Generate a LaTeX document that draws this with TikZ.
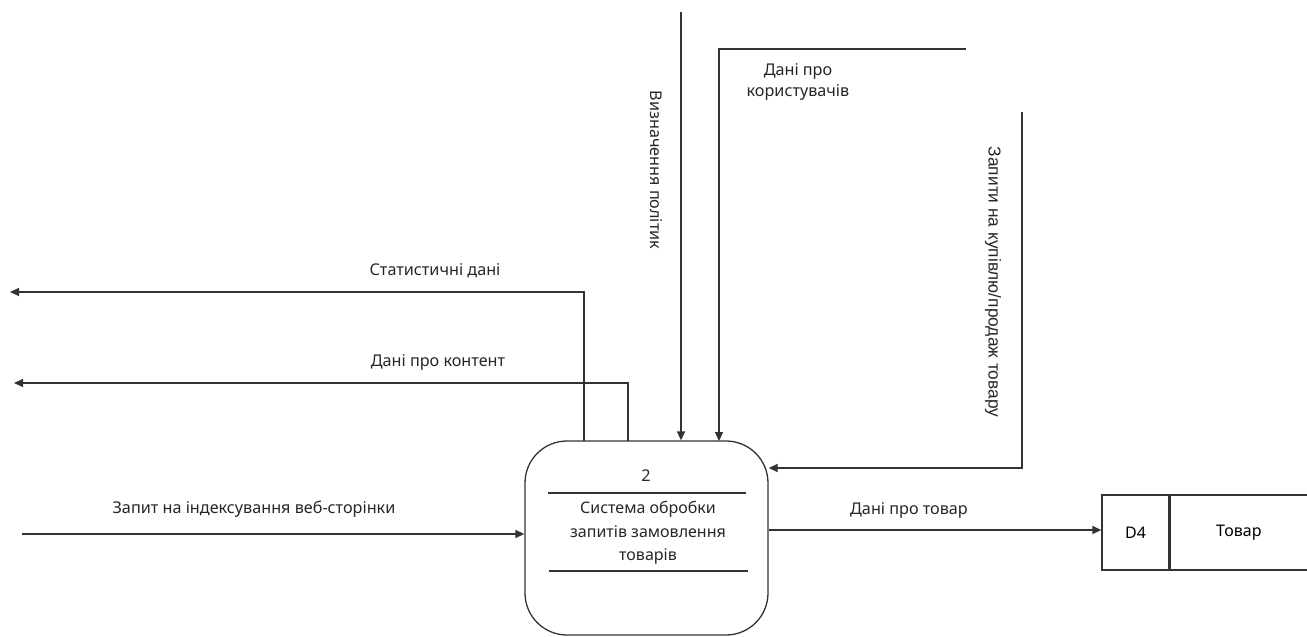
\documentclass[tikz,border=0pt]{standalone}
\usepackage{fontspec}
\setmainfont{Noto Sans}
\newfontfamily\arialfont{Liberation Sans}
\usetikzlibrary{arrows.meta,calc}
\begin{document}
\begin{tikzpicture}[x=1pt,y=-1pt,
  flow/.style={draw=black!80,line width=1.3pt,-{Triangle[length=9pt,width=8pt]}},
  wire/.style={draw=black!80,line width=1.3pt},
  lbl/.style={font=\fontsize{16.2}{21}\selectfont,text=black!85,inner sep=0pt},
  proc/.style={draw=black!80,line width=1.3pt,rounded corners=42pt,minimum width=243pt,minimum height=194pt,inner sep=0pt},
  storecell/.style={draw=black!80,line width=1.3pt,minimum height=75pt,inner sep=0pt,font=\fontsize{16}{21}\selectfont}]
\useasboundingbox (0,0) rectangle (1307,637);

% process 2
\node[proc] (p) at (646.5,538) {};
\draw[wire] (548,493) -- (746,493);
\draw[wire] (549,571) -- (748,571);
\node[lbl] (pnum) at (646,476) {2};
\node[lbl,align=center,font=\fontsize{16}{23.5}\selectfont] (ptxt) at (648,533) {Система обробки\\запитів замовлення\\товарів};

% data store D4
\node[storecell,minimum width=67pt] (d4) at (1135.5,532.5) {D4};
\node[storecell,minimum width=137pt,anchor=west] (tov) at (d4.east) {Товар};

% free ends of the flows
\coordinate (inA) at (22,534);
\coordinate (outS) at (10,292);
\coordinate (outC) at (14,383);
\coordinate (topP) at (681,12);
\coordinate (topU) at (966,49);
\coordinate (topZ) at (1022,112);

% incoming request
\draw[flow] (inA) -- (inA -| p.west);
\node[lbl] at (254,509) {Запит на індексування веб-сторінки};

% outgoing to the left
\draw[flow] (584,441) |- (outS);
\node[lbl] at (435,271) {Статистичні дані};
\draw[flow] (628,441) |- (outC);
\node[lbl] at (438,362) {Дані про контент};

% policies from the top
\draw[flow] (topP) -- (topP |- p.north);
\node[lbl,rotate=-90] at (656,170) {Визначення політик};

% user data from the top
\draw[flow] (topU) -| (719,441);
\node[lbl,align=center] at (798,82) {Дані про\\користувачів};

% buy/sell requests
\draw[flow] (topZ) |- (p.east |- 0,468);
\node[lbl,rotate=-90,font=\arialfont\fontsize{17.3}{21}\selectfont] at (993,282) {Запити на купівлю/продаж товару};

% goods data to the store
\draw[flow] (p.east |- 0,530) -- (d4.west |- 0,530);
\node[lbl] at (909,510) {Дані про товар};
\end{tikzpicture}
\end{document}
